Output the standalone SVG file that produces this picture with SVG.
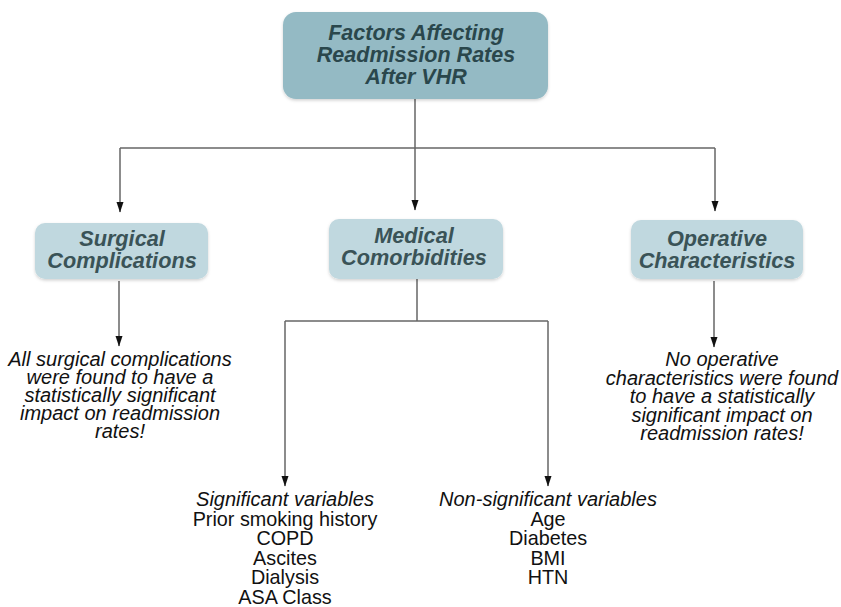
<svg xmlns="http://www.w3.org/2000/svg" width="841" height="607" viewBox="0 0 841 607">
<defs>
<marker id="arr" markerWidth="11" markerHeight="8" refX="10" refY="4" orient="auto" markerUnits="userSpaceOnUse" viewBox="0 0 11 8">
<path d="M0,0.5 L10.5,4 L0,7.5 Z" fill="#111"/>
</marker>
<filter id="sh" x="-10%" y="-10%" width="120%" height="130%">
<feDropShadow dx="0" dy="1.5" stdDeviation="1.5" flood-color="#000" flood-opacity="0.18"/>
</filter>
</defs>
<style>
.top{fill:#94bac4;filter:url(#sh)}
.sub{fill:#c0d8df;filter:url(#sh)}
.ht{font-family:"Liberation Sans",Arial,sans-serif;font-weight:bold;font-style:italic;font-size:21.5px;fill:#2a474c;text-anchor:middle}
.st{font-family:"Liberation Sans",Arial,sans-serif;font-weight:bold;font-style:italic;font-size:21.7px;fill:#3a5357;text-anchor:middle}
.note{font-family:"Liberation Sans",Arial,sans-serif;font-style:italic;font-size:20px;fill:#111;text-anchor:middle}
.lst{font-family:"Liberation Sans",Arial,sans-serif;font-size:19.8px;fill:#111;text-anchor:middle}
.ln{fill:none;stroke:#666;stroke-width:1.5}
</style>
<rect width="841" height="607" fill="#fff"/>
<g id="connectors">
<path class="ln" d="M415,99 V148"/>
<path class="ln" d="M120,148 H715"/>
<path class="ln" d="M120,148 V212" marker-end="url(#arr)"/>
<path class="ln" d="M415,148 V210" marker-end="url(#arr)"/>
<path class="ln" d="M715,148 V211" marker-end="url(#arr)"/>
<path class="ln" d="M119,281 V346" marker-end="url(#arr)"/>
<path class="ln" d="M714,281 V347" marker-end="url(#arr)"/>
<path class="ln" d="M417,279 V321"/>
<path class="ln" d="M285,321 H548"/>
<path class="ln" d="M285,321 V486" marker-end="url(#arr)"/>
<path class="ln" d="M548,321 V486" marker-end="url(#arr)"/>
</g>
<g id="root">
<rect class="top" x="283" y="12" width="265" height="87" rx="13"/>
<text class="ht" x="416" y="40">Factors Affecting</text>
<text class="ht" x="416" y="62">Readmission Rates</text>
<text class="ht" x="416" y="84">After VHR</text>
</g>
<g id="surgical">
<rect class="sub" x="35" y="223" width="173" height="56" rx="10"/>
<text class="st" x="122" y="246">Surgical</text>
<text class="st" x="122" y="268">Complications</text>
</g>
<g id="medical">
<rect class="sub" x="329" y="219" width="174" height="60" rx="10"/>
<text class="st" x="414" y="243">Medical</text>
<text class="st" x="414" y="265">Comorbidities</text>
</g>
<g id="operative">
<rect class="sub" x="631" y="220" width="172" height="59" rx="10"/>
<text class="st" x="717" y="246">Operative</text>
<text class="st" x="717" y="268">Characteristics</text>
</g>
<g id="surgical-note">
<text class="note" x="120" y="366">All surgical complications</text>
<text class="note" x="120" y="384">were found to have a</text>
<text class="note" x="120" y="402">statistically significant</text>
<text class="note" x="120" y="420">impact on readmission</text>
<text class="note" x="120" y="438">rates!</text>
</g>
<g id="operative-note">
<text class="note" x="722" y="366">No operative</text>
<text class="note" x="722" y="384.5">characteristics were found</text>
<text class="note" x="722" y="403">to have a statistically</text>
<text class="note" x="722" y="421.5">significant impact on</text>
<text class="note" x="722" y="440">readmission rates!</text>
</g>
<g id="significant">
<text class="note" x="285" y="506">Significant variables</text>
<text class="lst" x="285" y="525.5">Prior smoking history</text>
<text class="lst" x="285" y="545">COPD</text>
<text class="lst" x="285" y="564.5">Ascites</text>
<text class="lst" x="285" y="584">Dialysis</text>
<text class="lst" x="285" y="603.5">ASA Class</text>
</g>
<g id="nonsignificant">
<text class="note" x="548" y="506">Non-significant variables</text>
<text class="lst" x="548" y="525.5">Age</text>
<text class="lst" x="548" y="545">Diabetes</text>
<text class="lst" x="548" y="564.5">BMI</text>
<text class="lst" x="548" y="584">HTN</text>
</g>
</svg>
